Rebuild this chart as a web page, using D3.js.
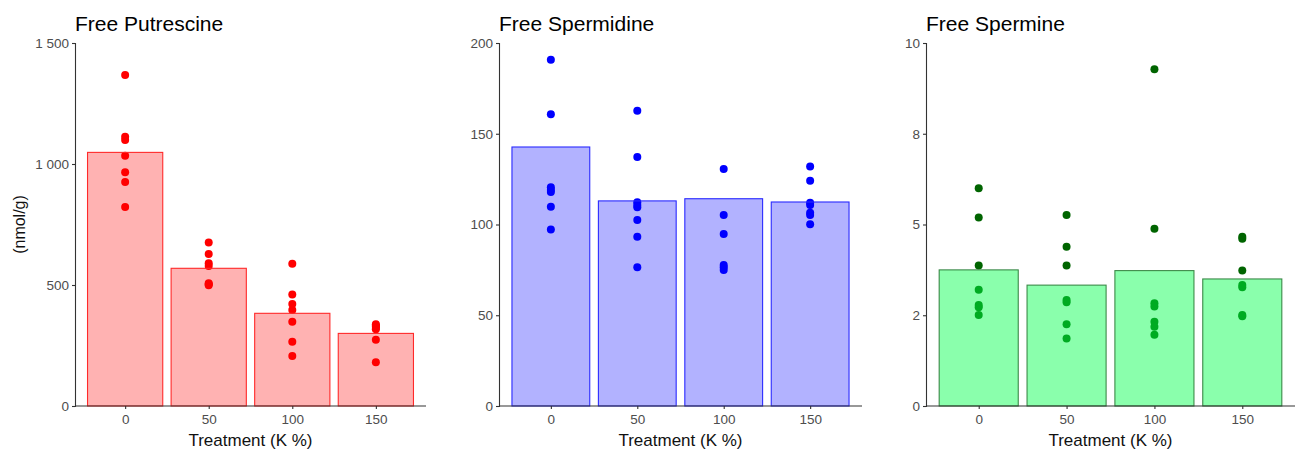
<!DOCTYPE html>
<html>
<head>
<meta charset="utf-8">
<script src="https://cdn.jsdelivr.net/npm/d3@7"></script>
<style>
  html, body { margin: 0; padding: 0; background: #fff; }
  svg { display: block; font-family: "Liberation Sans", Arial, sans-serif; }
</style>
</head>
<body>
<svg id="chart" width="1296" height="450"></svg>
<script>
// ---------------- DATA ----------------
const categories = ["0", "50", "100", "150"];

const titles = ["Free Putrescine", "Free Spermidine", "Free Spermine"];

// Putrescine
const putBars = [1048, 569, 383, 300];
const putPoints = [
  [1368, 1113, 1099, 1034, 966, 926, 822],
  [676, 628, 590, 578, 507, 503, 499],
  [588, 461, 421, 397, 348, 266, 207],
  [338, 333, 328, 322, 317, 274, 181]
];
const putTicks = [0, 500, 1000, 1500];
const putTickLabels = ["0", "500", "1 000", "1 500"];

// Spermidine
const spdBars = [142.7, 113, 114.2, 112.4];
const spdPoints = [
  [190.8, 160.7, 120.5, 119, 117.9, 109.8, 97.3],
  [162.7, 137.2, 112.2, 110.7, 109.5, 102.5, 93.3, 76.4],
  [130.6, 105.2, 94.8, 77.7, 76.4, 74.9],
  [132, 124.1, 112, 110.7, 106.5, 105.2, 100.1]
];
const spdTicks = [0, 50, 100, 150, 200];
const spdTickLabels = ["0", "50", "100", "150", "200"];

// Spermine
const spmBars = [3.75, 3.33, 3.73, 3.5];
const spmPoints = [
  [6.0, 5.19, 3.87, 3.2, 2.78, 2.72, 2.51],
  [5.26, 4.39, 3.87, 2.92, 2.86, 2.25, 1.86],
  [9.28, 4.88, 2.83, 2.74, 2.32, 2.18, 1.96],
  [4.66, 4.61, 3.73, 3.33, 3.27, 2.51, 2.47]
];
const spmTicks = [0, 2.5, 5, 7.5, 10];
const spmTickLabels = ["0", "2", "5", "8", "10"];

const yMax = [1500, 200, 10];

// ---------------- STYLE / LAYOUT ----------------
const panels = [
  { title: titles[0], bars: putBars, points: putPoints, ticks: putTicks, labels: putTickLabels, max: yMax[0],
    x0: 75, x1: 426, fill: "#ff0000", fillOp: 0.3, stroke: "#ff2a2a", strokeOp: 1, pt: "#ff0000" },
  { title: titles[1], bars: spdBars, points: spdPoints, ticks: spdTicks, labels: spdTickLabels, max: yMax[1],
    x0: 499, x1: 862, fill: "#0000ff", fillOp: 0.3, stroke: "#2a2aff", strokeOp: 1, pt: "#0000ff" },
  { title: titles[2], bars: spmBars, points: spmPoints, ticks: spmTicks, labels: spmTickLabels, max: yMax[2],
    x0: 926, x1: 1295, fill: "#00ff4a", fillOp: 0.46, stroke: "#2e7d3a", strokeOp: 0.9, pt: "#006400" }
];

const yTop = 43, yBot = 406;
const svg = d3.select("#chart");
const axisColor = "#333333";
const tickText = "#4d4d4d";

panels.forEach((p, pi) => {
  const g = svg.append("g");
  // ggplot discrete expand: 0.6 units each side, bars width 0.9
  const step = (p.x1 - p.x0) / (categories.length - 1 + 1.2);
  const xp = d3.scalePoint().domain(categories)
    .range([p.x0 + step * 0.6, p.x1 - step * 0.6]);
  const barW = step * 0.9;
  const y = d3.scaleLinear().domain([0, p.max]).range([yBot, yTop]);

  // points (under bars)
  categories.forEach((c, i) => {
    g.selectAll(null).data(p.points[i]).enter().append("circle")
      .attr("cx", xp(c)).attr("cy", d => y(d)).attr("r", 4)
      .attr("fill", p.pt);
  });

  // bars
  g.selectAll("rect.bar").data(p.bars).enter().append("rect")
    .attr("class", "bar")
    .attr("x", (d, i) => xp(categories[i]) - barW / 2)
    .attr("width", barW)
    .attr("y", d => y(d))
    .attr("height", d => yBot - y(d))
    .attr("fill", p.fill).attr("fill-opacity", p.fillOp)
    .attr("stroke", p.stroke).attr("stroke-opacity", p.strokeOp).attr("stroke-width", 1.1);

  // y axis
  const yAxis = d3.axisLeft(y).tickValues(p.ticks)
    .tickFormat((d, i) => p.labels[i]).tickSizeOuter(0).tickSize(3).tickPadding(3);
  const ya = g.append("g").attr("transform", `translate(${p.x0},0)`).call(yAxis);
  ya.select(".domain").attr("stroke", axisColor).attr("stroke-width", 1.1);
  ya.selectAll(".tick line").attr("stroke", axisColor).attr("stroke-width", 1.1);
  ya.selectAll(".tick text").attr("fill", tickText).attr("font-size", 13.5)
    .attr("font-family", "Liberation Sans, Arial, sans-serif");

  // x axis
  const xAxis = d3.axisBottom(xp).tickSize(3).tickSizeOuter(0).tickPadding(5);
  const xa = g.append("g").attr("transform", `translate(0,${yBot})`).call(xAxis);
  xa.select(".domain").remove();
  xa.append("line").attr("x1", p.x0).attr("x2", p.x1).attr("y1", 0).attr("y2", 0)
    .attr("stroke", axisColor).attr("stroke-width", 1.1);
  xa.selectAll(".tick line").attr("stroke", axisColor).attr("stroke-width", 1.1);
  xa.selectAll(".tick text").attr("fill", tickText).attr("font-size", 13.5)
    .attr("font-family", "Liberation Sans, Arial, sans-serif");

  // x axis title
  g.append("text").attr("x", (p.x0 + p.x1) / 2).attr("y", 446)
    .attr("text-anchor", "middle").attr("font-size", 17).attr("fill", "#111")
    .text("Treatment (K %)");

  // title
  g.append("text").attr("x", p.x0).attr("y", 30.5)
    .attr("font-size", 21).attr("fill", "#000")
    .text(p.title);

  if (pi === 0) {
    g.append("text")
      .attr("transform", `translate(25,${(yTop + yBot) / 2}) rotate(-90)`)
      .attr("text-anchor", "middle").attr("font-size", 16).attr("fill", "#111")
      .text("(nmol/g)");
  }
});
</script>
</body>
</html>
